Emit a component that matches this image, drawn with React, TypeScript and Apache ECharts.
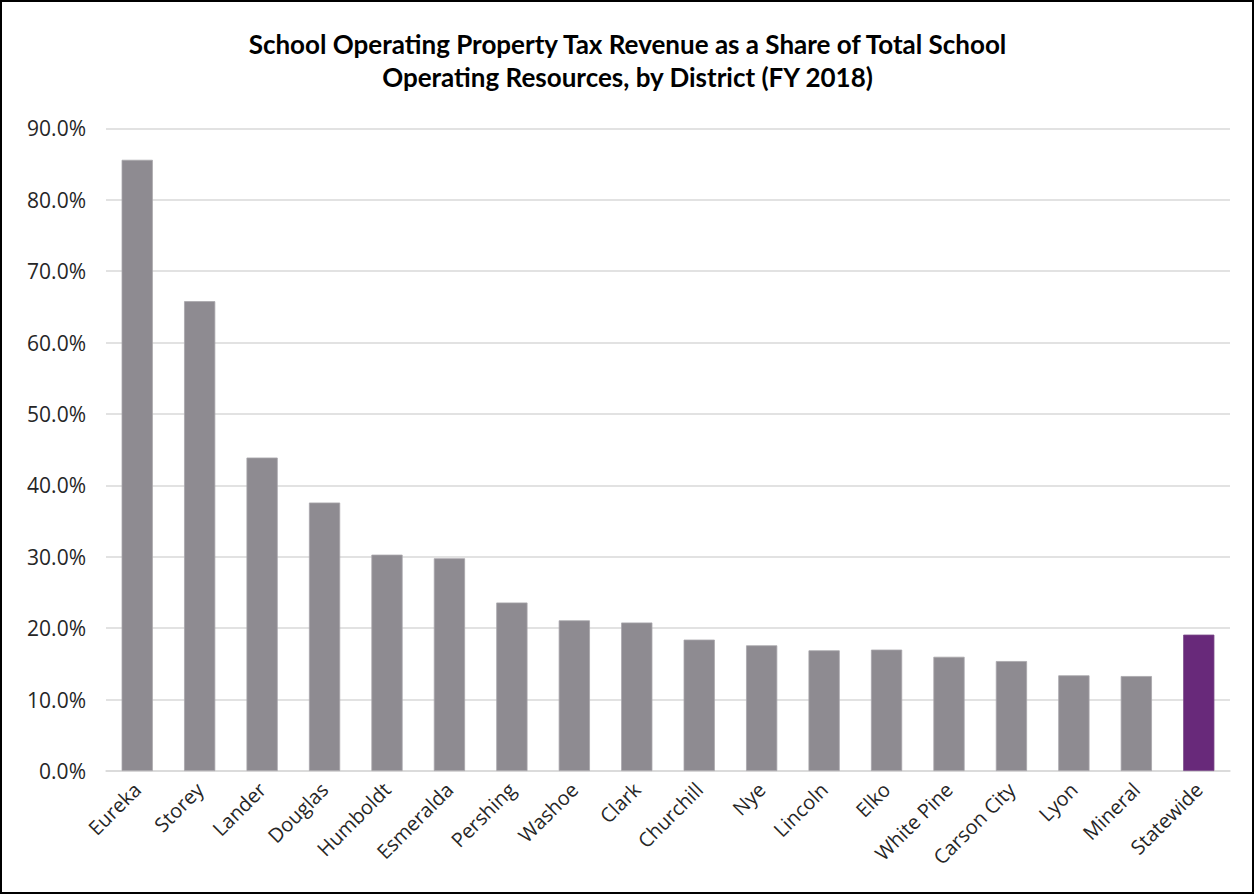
import React, { useEffect, useRef } from "react";
import * as echarts from "echarts";

const districts = [
  "Eureka", "Storey", "Lander", "Douglas", "Humboldt", "Esmeralda", "Pershing",
  "Washoe", "Clark", "Churchill", "Nye", "Lincoln", "Elko", "White Pine",
  "Carson City", "Lyon", "Mineral", "Statewide",
];
const shares = [
  85.6, 65.8, 43.9, 37.6, 30.3, 29.8, 23.6, 21.1, 20.8, 18.4, 17.6, 16.9,
  17.0, 16.0, 15.4, 13.4, 13.3, 19.1,
];
const highlighted = "Statewide";
const titleText =
  "School Operating Property Tax Revenue as a Share of Total School\nOperating Resources, by District (FY 2018)";

export default function App() {
  const ref = useRef<HTMLDivElement>(null);
  useEffect(() => {
    document.body.style.margin = "0";
    const chart = echarts.init(ref.current!, null, { renderer: "svg" });
    chart.setOption({
      animation: false,
      backgroundColor: "#ffffff",
      title: {
        text: titleText,
        left: "center",
        top: 22,
        textStyle: {
          fontFamily: "Lato",
          fontWeight: "bold",
          fontSize: 26,
          lineHeight: 33,
          color: "#000000",
        },
      },
      grid: { left: 106, right: 25, top: 128.4, bottom: 124, containLabel: false },
      xAxis: {
        type: "category",
        data: districts,
        axisLine: { lineStyle: { color: "#d9d9d9", width: 1.5 } },
        axisTick: { show: false },
        axisLabel: {
          rotate: 45,
          interval: 0,
          margin: 15,
          fontFamily: "Open Sans",
          fontSize: 20,
          color: "#262626",
        },
      },
      yAxis: {
        type: "value",
        min: 0,
        max: 90,
        interval: 10,
        axisLine: { show: false },
        axisTick: { show: false },
        splitLine: { lineStyle: { color: "#d9d9d9", width: 1.5 } },
        axisLabel: {
          formatter: (v: number) => v.toFixed(1) + "%",
          fontFamily: "Open Sans",
          fontSize: 21,
          color: "#262626",
          margin: 20,
        },
      },
      series: [
        {
          type: "bar",
          barCategoryGap: "50%",
          data: shares.map((v, i) => ({
            value: v,
            itemStyle: {
              color: districts[i] === highlighted ? "#68297a" : "#8e8b91",
              borderColor: districts[i] === highlighted ? "#7a4a88" : "#a8a6ab",
              borderWidth: 0.8,
            },
          })),
        },
      ],
      graphic: [
        {
          type: "rect",
          shape: { x: 1, y: 1, width: 1252, height: 892 },
          style: { fill: "none", stroke: "#000000", lineWidth: 2 },
          silent: true,
        },
      ],
    });
    return () => chart.dispose();
  }, []);
  return <div ref={ref} style={{ width: 1255, height: 895 }} />;
}
